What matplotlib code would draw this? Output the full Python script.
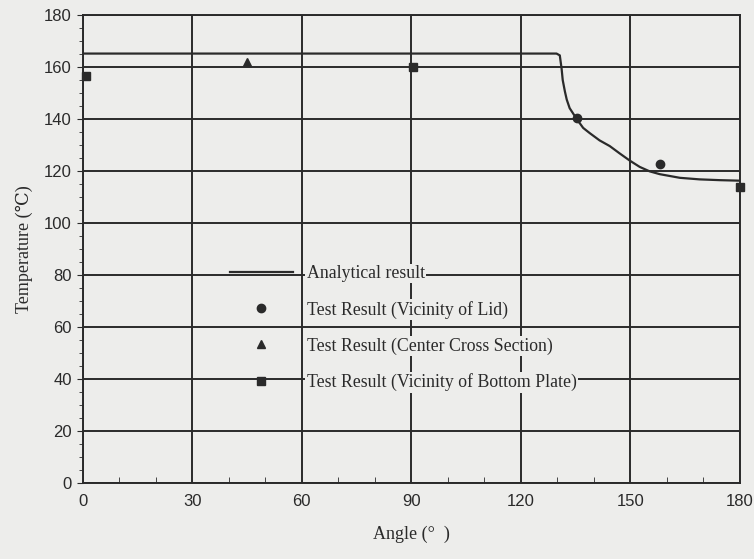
import matplotlib
matplotlib.use("Agg")
import matplotlib.pyplot as plt
from matplotlib.lines import Line2D
from matplotlib.ticker import MultipleLocator

# analytical curve
ana_angle = [0, 129.8, 130.7, 131.2, 131.5, 132.1, 132.6, 133.4, 135.3, 137.1, 138.9,
             141.6, 144.4, 147.1, 149.9, 152.6, 155.3, 158.1, 163.6, 169, 174.5, 180]
ana_temp = [165.2, 165.2, 164.5, 159.3, 155, 150.6, 147.5, 144.2, 140.1, 136.6, 134.6,
            131.8, 129.6, 126.8, 124, 121.6, 119.9, 118.8, 117.4, 116.8, 116.5, 116.3]

# test results
lid_angle = [135.3, 158.1]
lid_temp = [140.6, 122.8]
center_angle = [45]
center_temp = [162]
bottom_angle = [0.8, 90.5, 180]
bottom_temp = [156.5, 160, 113.8]

labels = ["Analytical result",
          "Test Result (Vicinity of Lid)",
          "Test Result (Center Cross Section)",
          "Test Result (Vicinity of Bottom Plate)"]

ink = "#2a2a2a"
paper = "#ededeb"

fig = plt.figure(figsize=(7.54, 5.59), dpi=100, facecolor=paper)
ax = fig.add_axes([0.110, 0.136, 0.871, 0.837])
ax.set_facecolor(paper)

ax.plot(ana_angle, ana_temp, color=ink, lw=1.6, zorder=3)
ax.plot(lid_angle, lid_temp, "o", color=ink, ms=6, zorder=4)
ax.plot(center_angle, center_temp, "^", color=ink, ms=6, zorder=4)
ax.plot(bottom_angle, bottom_temp, "s", color=ink, ms=6, zorder=4, clip_on=False)

ax.set_xlim(0, 180)
ax.set_ylim(0, 180)
ax.xaxis.set_major_locator(MultipleLocator(30))
ax.yaxis.set_major_locator(MultipleLocator(20))
ax.xaxis.set_minor_locator(MultipleLocator(10))
ax.yaxis.set_minor_locator(MultipleLocator(5))
ax.grid(True, which="major", color=ink, lw=1.4)
ax.set_axisbelow(True)
for s in ax.spines.values():
    s.set_color(ink)
    s.set_linewidth(1.4)

ax.tick_params(axis="x", which="both", direction="in", colors=ink, labelsize=12, pad=8)
ax.tick_params(axis="x", which="major", length=0)
ax.tick_params(axis="x", which="minor", length=4)
ax.tick_params(axis="y", which="both", direction="out", colors=ink, labelsize=12, pad=4)
ax.tick_params(axis="y", which="major", length=4)
ax.tick_params(axis="y", which="minor", length=3)
for t in ax.get_xticklabels() + ax.get_yticklabels():
    t.set_family(["Liberation Sans", "DejaVu Sans"])
    t.set_color(ink)

ax.set_xlabel("Angle (°  )", family=["Liberation Serif", "DejaVu Serif"], fontsize=13, color=ink, labelpad=12)
ax.set_ylabel("Temperature (℃)", family=["Liberation Serif", "DejaVu Serif"], fontsize=13, color=ink, labelpad=8)

handles = [Line2D([], [], color=ink, lw=1.6),
           Line2D([], [], ls="none", marker="o", color=ink, ms=6),
           Line2D([], [], ls="none", marker="^", color=ink, ms=6),
           Line2D([], [], ls="none", marker="s", color=ink, ms=6)]
leg = ax.legend(handles, labels, loc="upper left", bbox_to_anchor=(0.20, 0.50),
                frameon=False, handlelength=3.5, labelspacing=1.05,
                prop={"family": ["Liberation Serif", "DejaVu Serif"], "size": 12.8})
for t in leg.get_texts():
    t.set_color(ink)
    t.set_bbox(dict(facecolor=paper, edgecolor="none", pad=1))

fig.savefig("out.png", dpi=100, facecolor=paper)
